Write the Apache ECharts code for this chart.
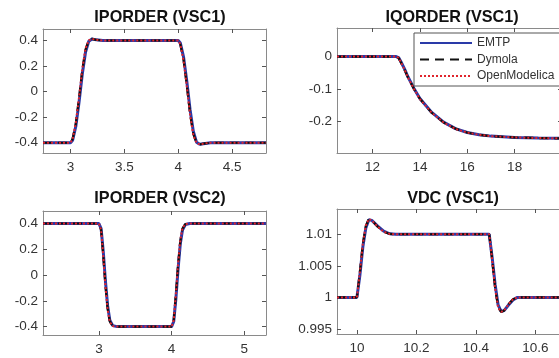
<!DOCTYPE html>
<html>
<head>
<meta charset="UTF-8">
<title>EMTP / Dymola / OpenModelica</title>
<style>
  html, body { margin: 0; padding: 0; background: #fff; }
  #main { width: 559px; height: 358px; }
</style>
</head>
<body>
<div id="main"></div>
<script src="https://cdn.jsdelivr.net/npm/echarts@6/dist/echarts.min.js"></script>
<script>
// ---- data ----
var tools = ['EMTP', 'Dymola', 'OpenModelica'];
var titles = ['IPORDER (VSC1)', 'IQORDER (VSC1)', 'IPORDER (VSC2)', 'VDC (VSC1)'];

// IPORDER (VSC1)
var t1 = [2.745, 3.0, 3.02, 3.05, 3.08, 3.11, 3.14, 3.17, 3.2, 3.24, 3.3, 4.0, 4.02, 4.05, 4.08, 4.11, 4.14, 4.17, 4.2, 4.25, 4.3, 4.815];
var p1Emtp = [-0.4, -0.4, -0.38, -0.27, -0.08, 0.14, 0.31, 0.395, 0.412, 0.405, 0.4, 0.4, 0.38, 0.27, 0.08, -0.14, -0.31, -0.395, -0.412, -0.405, -0.4, -0.4];
var p1Dym = [-0.4, -0.4, -0.37, -0.25, -0.05, 0.17, 0.33, 0.4, 0.413, 0.405, 0.4, 0.4, 0.37, 0.25, 0.05, -0.17, -0.33, -0.4, -0.413, -0.405, -0.4, -0.4];
var p1Om = [-0.4, -0.4, -0.37, -0.24, -0.04, 0.18, 0.34, 0.401, 0.413, 0.405, 0.4, 0.4, 0.37, 0.24, 0.04, -0.18, -0.34, -0.401, -0.413, -0.405, -0.4, -0.4];

// IQORDER (VSC1)
var t2 = [10.5, 13.0, 13.1, 13.2, 13.35, 13.5, 13.75, 14, 14.5, 15, 15.5, 16, 16.5, 17, 18, 19, 20];
var p2Emtp = [0, 0, -0.003, -0.016, -0.038, -0.063, -0.098, -0.129, -0.172, -0.202, -0.222, -0.234, -0.241, -0.245, -0.249, -0.251, -0.252];
var p2Dym = [0, 0, -0.004, -0.018, -0.04, -0.065, -0.1, -0.13, -0.173, -0.203, -0.222, -0.234, -0.241, -0.245, -0.249, -0.251, -0.252];
var p2Om = [0, 0, -0.004, -0.018, -0.04, -0.065, -0.1, -0.131, -0.173, -0.203, -0.223, -0.234, -0.241, -0.245, -0.249, -0.251, -0.252];

// IPORDER (VSC2)
var t3 = [2.23, 3.0, 3.03, 3.06, 3.09, 3.12, 3.15, 3.19, 3.25, 4.0, 4.03, 4.06, 4.09, 4.12, 4.15, 4.19, 4.25, 5.3];
var p3Emtp = [0.4, 0.4, 0.36, 0.18, -0.05, -0.24, -0.35, -0.392, -0.4, -0.4, -0.36, -0.18, 0.05, 0.24, 0.35, 0.392, 0.4, 0.4];
var p3Dym = [0.4, 0.4, 0.35, 0.15, -0.08, -0.26, -0.36, -0.395, -0.4, -0.4, -0.35, -0.15, 0.08, 0.26, 0.36, 0.395, 0.4, 0.4];
var p3Om = [0.4, 0.4, 0.35, 0.14, -0.09, -0.27, -0.365, -0.396, -0.4, -0.4, -0.35, -0.14, 0.09, 0.27, 0.365, 0.396, 0.4, 0.4];

// VDC (VSC1)
var t4 = [9.933, 10.0, 10.01, 10.02, 10.03, 10.04, 10.05, 10.07, 10.09, 10.11, 10.13, 10.445, 10.455, 10.465, 10.475, 10.485, 10.495, 10.51, 10.525, 10.54, 10.7];
var p4Emtp = [1.0, 1.0, 1.0035, 1.008, 1.011, 1.0123, 1.0122, 1.0113, 1.0105, 1.01008, 1.01, 1.01, 1.0063, 1.002, 0.9988, 0.9978, 0.9979, 0.9988, 0.9996, 1.0, 1.0];
var p4Dym = [1.0, 1.0, 1.004, 1.0085, 1.0113, 1.0124, 1.0122, 1.0112, 1.0104, 1.01005, 1.01, 1.01, 1.006, 1.0015, 0.9985, 0.9977, 0.9979, 0.9989, 0.9997, 1.0, 1.0];
var p4Om = [1.0, 1.0, 1.004, 1.0086, 1.0114, 1.0124, 1.0122, 1.0112, 1.0104, 1.01005, 1.01, 1.01, 1.0059, 1.0014, 0.9984, 0.9977, 0.9979, 0.9989, 0.9997, 1.0, 1.0];

// tick labels
var xTicks = [[3, 3.5, 4, 4.5], [12, 14, 16, 18], [3, 4, 5], [10, 10.2, 10.4, 10.6]];
var yTicks = [[-0.4, -0.2, 0, 0.2, 0.4], [-0.2, -0.1, 0], [-0.4, -0.2, 0, 0.2, 0.4], [0.995, 1, 1.005, 1.01]];

// ---- layout ----
var grids = [
  { left: 43, top: 29, width: 223, height: 124 },
  { left: 337, top: 28, width: 225, height: 125 },
  { left: 43, top: 211, width: 223, height: 124 },
  { left: 337, top: 209, width: 228, height: 125 }
];
var xRange = [[2.745, 4.815], [10.5, 20], [2.23, 5.3], [9.933, 10.7]];
var yRange = [[-0.48, 0.49], [-0.297, 0.088], [-0.465, 0.497], [0.9942, 1.014]];
var titleX = [155, 447, 155, 448];
var titleY = [5, 5, 186, 186];

var frameColor = '#8a8a8a';
var colors = ['#2a3aa8', '#111111', '#e0242c'];
var styles = [
  { width: 3, type: 'solid' },
  { width: 2.2, type: [9, 6] },
  { width: 2, type: [2, 2] }
];
var tData = [t1, t2, t3, t4];
var vals = [
  [p1Emtp, p1Dym, p1Om],
  [p2Emtp, p2Dym, p2Om],
  [p3Emtp, p3Dym, p3Om],
  [p4Emtp, p4Dym, p4Om]
];

function pairs(t, v) {
  var out = [];
  for (var i = 0; i < t.length; i++) out.push([t[i], v[i]]);
  return out;
}

var xAxes = [], yAxes = [], series = [], titleList = [];
for (var g = 0; g < 4; g++) {
  titleList.push({
    text: titles[g], left: titleX[g], top: titleY[g], textAlign: 'center',
    textStyle: { fontFamily: 'Liberation Sans', fontSize: 16.2, fontWeight: 'bold', color: '#111' }
  });
  ['bottom', 'top'].forEach(function (pos) {
    xAxes.push({
      type: 'value', gridIndex: g, position: pos,
      min: xRange[g][0], max: xRange[g][1],
      splitLine: { show: false },
      axisLine: { show: true, onZero: false, lineStyle: { color: frameColor, width: 1 } },
      axisTick: { show: true, inside: true, length: 4, customValues: xTicks[g], lineStyle: { color: '#555' } },
      axisLabel: {
        show: pos === 'bottom', customValues: xTicks[g], margin: 7,
        fontFamily: 'Liberation Sans', fontSize: 13.5, color: '#333'
      }
    });
  });
  ['left', 'right'].forEach(function (pos) {
    yAxes.push({
      type: 'value', gridIndex: g, position: pos,
      min: yRange[g][0], max: yRange[g][1],
      splitLine: { show: false },
      axisLine: { show: true, onZero: false, lineStyle: { color: frameColor, width: 1 } },
      axisTick: { show: true, inside: true, length: 4, customValues: yTicks[g], lineStyle: { color: '#555' } },
      axisLabel: {
        show: pos === 'left', customValues: yTicks[g], margin: 5,
        fontFamily: 'Liberation Sans', fontSize: 13.5, color: '#333'
      }
    });
  });
  for (var s = 0; s < 3; s++) {
    series.push({
      name: tools[s], type: 'line',
      xAxisIndex: g * 2, yAxisIndex: g * 2,
      data: pairs(tData[g], vals[g][s]),
      symbol: 'none', clip: true, animation: false,
      color: colors[s],
      lineStyle: { color: colors[s], width: styles[s].width, type: styles[s].type },
      z: 2 + s
    });
  }
}

var myChart = echarts.init(document.getElementById('main'), null, { renderer: 'canvas' });
myChart.setOption({
  backgroundColor: '#fff',
  animation: false,
  title: titleList,
  grid: grids.map(function (d) { return Object.assign({ outerBoundsMode: 'none' }, d); }),
  xAxis: xAxes,
  yAxis: yAxes,
  legend: {
    data: tools, orient: 'vertical',
    left: 414, top: 33,
    itemWidth: 52, itemHeight: 12, itemGap: 4.5, itemTextGap: 1,
    padding: [4, 6, 4, 5],
    itemStyle: { opacity: 0 },
    backgroundColor: '#fff', borderColor: '#555', borderWidth: 1, borderRadius: 0,
    textStyle: { fontFamily: 'Liberation Sans', fontSize: 12, color: '#333' }
  },
  series: series
});
</script>
</body>
</html>
